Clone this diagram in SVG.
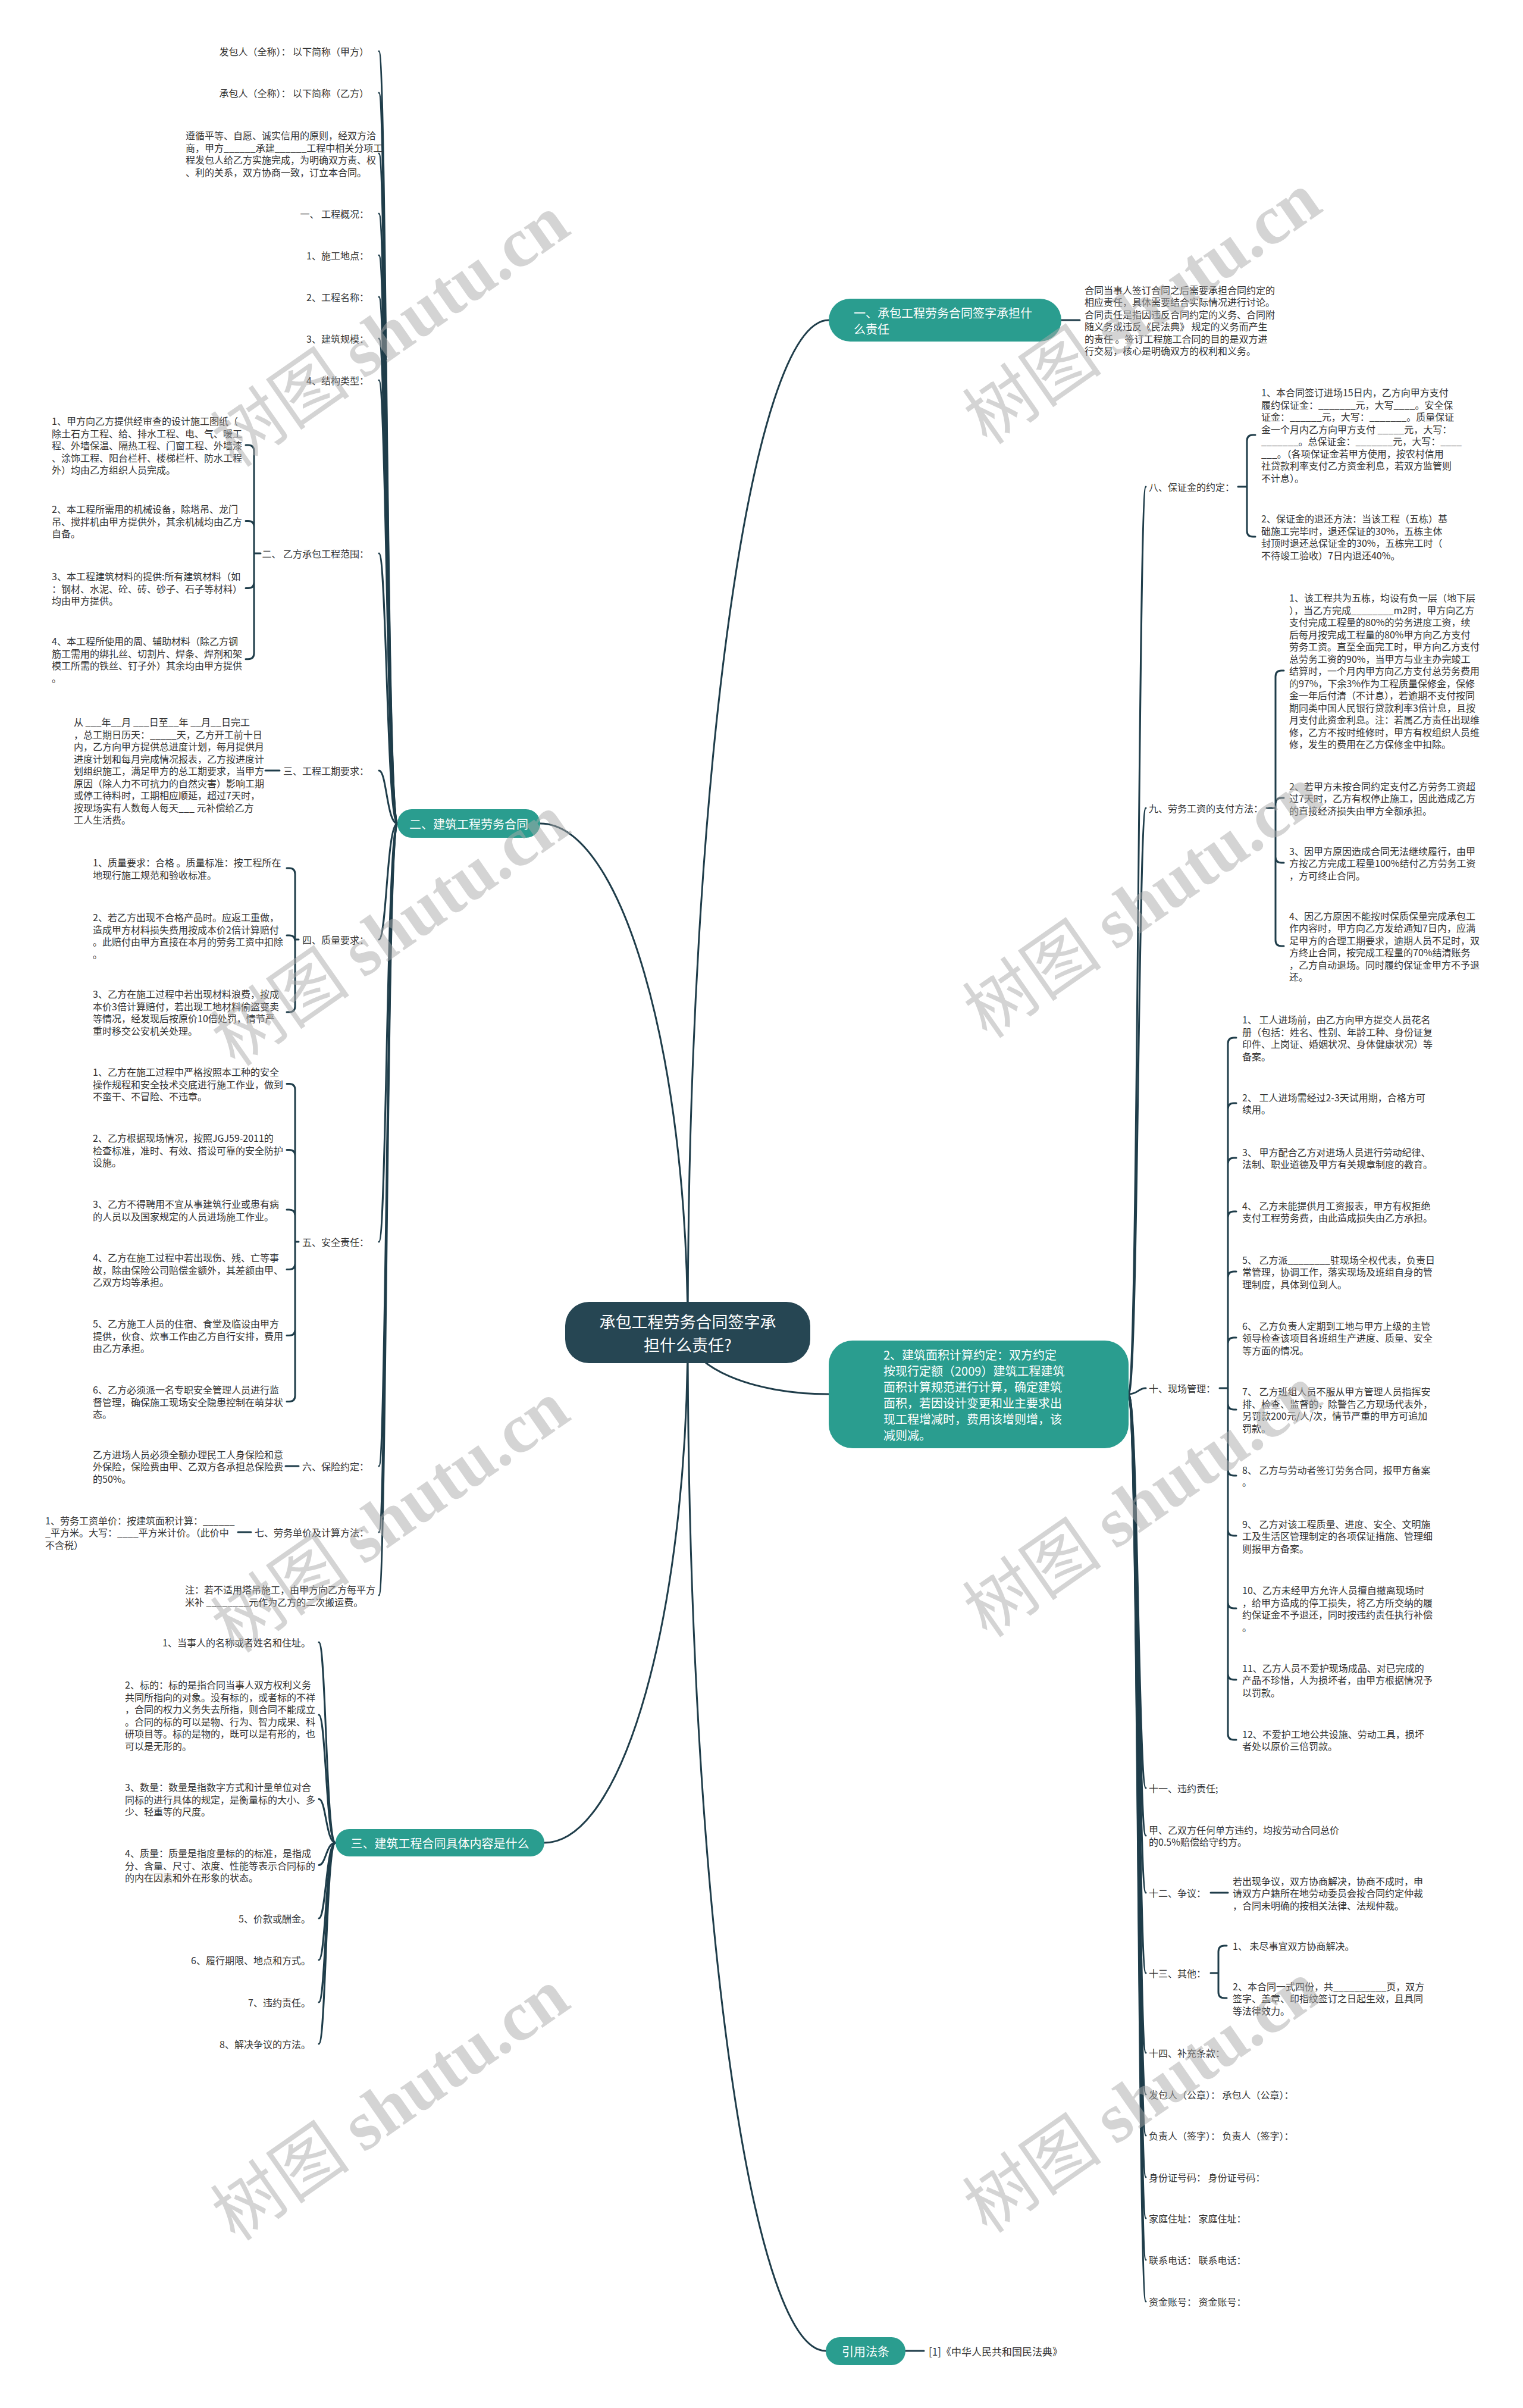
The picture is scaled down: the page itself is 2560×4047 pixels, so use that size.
<svg xmlns="http://www.w3.org/2000/svg" width="2560" height="4047" viewBox="0 0 2560 4047">
<defs><style>
.t{font-family:'Noto Sans CJK SC','Noto Sans',sans-serif;font-size:16px;fill:#333;dominant-baseline:central}
.e{text-anchor:end}
.m{text-anchor:middle}
.c{fill:none;stroke:#1f3d4a;stroke-width:3;stroke-linecap:round;stroke-linejoin:round}
.n1{fill:#2a9d8f}
.w{fill:#fff;font-size:20px}
.root{fill:#264653}
.big{font-size:27px}
.wm{font-family:'Noto Sans CJK SC',sans-serif;font-size:118px;fill:#aaa;opacity:.5}
.wms{font-family:'Liberation Serif',serif;font-weight:bold}
</style></defs>
<rect width="2560" height="4047" fill="#fff"/>
<g id="connectors">
<path class="c" d="M1156 2240 C1156 1304 1263 538 1393 538"/>
<path class="c" d="M1156 2240 C1156 1769 1044 1384 908 1384"/>
<path class="c" d="M1156 2240 C1156 2711 1048 3097 915 3097"/>
<path class="c" d="M1156 2240 C1156 2297 1263 2343 1393 2343"/>
<path class="c" d="M1156 2240 C1156 3181 1260 3951 1388 3951"/>
<path class="c" d="M1784 538 L1815 538"/>
<path class="c" d="M1522 3951 L1553 3951"/>
<path class="c" d="M668 1384 C650 1384 650 86 637 86"/>
<path class="c" d="M668 1384 C650 1384 650 156 637 156"/>
<path class="c" d="M668 1384 C650 1384 650 258 637 258"/>
<path class="c" d="M668 1384 C650 1384 650 359 637 359"/>
<path class="c" d="M668 1384 C650 1384 650 429 637 429"/>
<path class="c" d="M668 1384 C650 1384 650 499 637 499"/>
<path class="c" d="M668 1384 C650 1384 650 569 637 569"/>
<path class="c" d="M668 1384 C650 1384 650 639 637 639"/>
<path class="c" d="M668 1384 C650 1384 650 930 637 930"/>
<path class="c" d="M668 1384 C650 1384 650 1295 637 1295"/>
<path class="c" d="M668 1384 C650 1384 650 1579 637 1579"/>
<path class="c" d="M668 1384 C650 1384 650 2087 637 2087"/>
<path class="c" d="M668 1384 C650 1384 650 2464 637 2464"/>
<path class="c" d="M668 1384 C650 1384 650 2575 637 2575"/>
<path class="c" d="M668 1384 C650 1384 650 2681 637 2681"/>
<path class="c" d="M438 930 L427 930 M427 930 L427 758 Q427 748 417 748 L413 748 M427 930 L427 885.5 Q427 875.5 417 875.5 L413 875.5 M427 930 L427 978.5 Q427 988.5 417 988.5 L413 988.5 M427 930 L427 1097.75 Q427 1107.75 417 1107.75 L413 1107.75"/>
<path class="c" d="M470 1295 L446 1295"/>
<path class="c" d="M502 1579 L496 1579 M496 1579 L496 1469 Q496 1459 486 1459 L482 1459 M496 1579 L496 1582 Q496 1572 486 1572 L482 1572 M496 1579 L496 1691 Q496 1701 486 1701 L482 1701"/>
<path class="c" d="M502 2087 L496 2087 M496 2087 L496 1831.5 Q496 1821.5 486 1821.5 L482 1821.5 M496 2087 L496 1942.5 Q496 1932.5 486 1932.5 L482 1932.5 M496 2087 L496 2043 Q496 2033 486 2033 L482 2033 M496 2087 L496 2123.5 Q496 2133.5 486 2133.5 L482 2133.5 M496 2087 L496 2234.5 Q496 2244.5 486 2244.5 L482 2244.5 M496 2087 L496 2345.5 Q496 2355.5 486 2355.5 L482 2355.5"/>
<path class="c" d="M502 2464 L480 2464"/>
<path class="c" d="M422 2575 L400 2575"/>
<path class="c" d="M564 3097 C548 3097 548 2760 536 2760"/>
<path class="c" d="M564 3097 C548 3097 548 2882 536 2882"/>
<path class="c" d="M564 3097 C548 3097 548 3023.5 536 3023.5"/>
<path class="c" d="M564 3097 C548 3097 548 3134.5 536 3134.5"/>
<path class="c" d="M564 3097 C548 3097 548 3224 536 3224"/>
<path class="c" d="M564 3097 C548 3097 548 3294 536 3294"/>
<path class="c" d="M564 3097 C548 3097 548 3365 536 3365"/>
<path class="c" d="M564 3097 C548 3097 548 3435 536 3435"/>
<path class="c" d="M1897 2343 C1913 2343 1913 818 1926 818"/>
<path class="c" d="M1897 2343 C1913 2343 1913 1358 1926 1358"/>
<path class="c" d="M1897 2343 C1913 2343 1913 2333 1926 2333"/>
<path class="c" d="M1897 2343 C1913 2343 1913 3005 1926 3005"/>
<path class="c" d="M1897 2343 C1913 2343 1913 3085 1926 3085"/>
<path class="c" d="M1897 2343 C1913 2343 1913 3181 1926 3181"/>
<path class="c" d="M1897 2343 C1913 2343 1913 3316 1926 3316"/>
<path class="c" d="M1897 2343 C1913 2343 1913 3450 1926 3450"/>
<path class="c" d="M1897 2343 C1913 2343 1913 3520 1926 3520"/>
<path class="c" d="M1897 2343 C1913 2343 1913 3589 1926 3589"/>
<path class="c" d="M1897 2343 C1913 2343 1913 3659 1926 3659"/>
<path class="c" d="M1897 2343 C1913 2343 1913 3728 1926 3728"/>
<path class="c" d="M1897 2343 C1913 2343 1913 3798 1926 3798"/>
<path class="c" d="M1897 2343 C1913 2343 1913 3868 1926 3868"/>
<path class="c" d="M2081 818 L2096 818 M2096 818 L2096 741 Q2096 731 2106 731 L2110 731 M2096 818 L2096 892 Q2096 902 2106 902 L2110 902"/>
<path class="c" d="M2129 1358 L2144 1358 M2144 1358 L2144 1137 Q2144 1127 2154 1127 L2158 1127 M2144 1358 L2144 1351 Q2144 1341 2154 1341 L2158 1341 M2144 1358 L2144 1440 Q2144 1450 2154 1450 L2158 1450 M2144 1358 L2144 1580 Q2144 1590 2154 1590 L2158 1590"/>
<path class="c" d="M2050 2333 L2064 2333 M2064 2333 L2064 1754 Q2064 1744 2074 1744 L2078 1744 M2064 2333 L2064 1864 Q2064 1854 2074 1854 L2078 1854 M2064 2333 L2064 1956 Q2064 1946 2074 1946 L2078 1946 M2064 2333 L2064 2046 Q2064 2036 2074 2036 L2078 2036 M2064 2333 L2064 2147 Q2064 2137 2074 2137 L2078 2137 M2064 2333 L2064 2258 Q2064 2248 2074 2248 L2078 2248 M2064 2333 L2064 2359 Q2064 2369 2074 2369 L2078 2369 M2064 2333 L2064 2470 Q2064 2480 2074 2480 L2078 2480 M2064 2333 L2064 2571 Q2064 2581 2074 2581 L2078 2581 M2064 2333 L2064 2693 Q2064 2703 2074 2703 L2078 2703 M2064 2333 L2064 2813 Q2064 2823 2074 2823 L2078 2823 M2064 2333 L2064 2914 Q2064 2924 2074 2924 L2078 2924"/>
<path class="c" d="M2035 3181 L2064 3181"/>
<path class="c" d="M2035 3316 L2048 3316 M2048 3316 L2048 3280 Q2048 3270 2058 3270 L2062 3270 M2048 3316 L2048 3348 Q2048 3358 2058 3358 L2062 3358"/>
</g>

<g id="node-root"><rect class="root" x="950" y="2188" width="412" height="103" rx="40"/><text class="t w big m"><tspan x="1156" y="2220">承包工程劳务合同签字承</tspan><tspan x="1156" y="2259">担什么责任?</tspan></text></g>

<g id="node-1"><rect class="n1" x="1393" y="502" width="391" height="72" rx="36"/><text class="t w"><tspan x="1435" y="524.5">一、承包工程劳务合同签字承担什</tspan><tspan x="1435" y="551.5">么责任</tspan></text></g>
<g id="node-1-text"><text class="t"><tspan x="1823" y="486.75">合同当事人签订合同之后需要承担合同约定的</tspan><tspan x="1823" y="507.25">相应责任，具体需要结合实际情况进行讨论。</tspan><tspan x="1823" y="527.75">合同责任是指因违反合同约定的义务、合同附</tspan><tspan x="1823" y="548.25">随义务或违反《民法典》 规定的义务而产生</tspan><tspan x="1823" y="568.75">的责任 。签订工程施工合同的目的是双方进</tspan><tspan x="1823" y="589.25">行交易，核心是明确双方的权利和义务。</tspan></text></g>

<g id="node-2"><rect class="n1" x="668" y="1360" width="240" height="48" rx="24"/><text class="t w m" x="788" y="1384">二、建筑工程劳务合同</text></g>
<g id="n2-leaves">
<text class="t e" x="620" y="86">发包人（全称）： 以下简称（甲方）</text>
<text class="t e" x="620" y="156">承包人（全称）： 以下简称（乙方）</text>
<text class="t"><tspan x="312" y="227">遵循平等、自愿、诚实信用的原则，经双方洽</tspan><tspan x="312" y="247.5">商，甲方______承建______工程中相关分项工</tspan><tspan x="312" y="268">程发包人给乙方实施完成，为明确双方责、权</tspan><tspan x="312" y="288.5">、利的关系，双方协商一致，订立本合同。</tspan></text>
<text class="t e" x="620" y="359">一、 工程概况：</text>
<text class="t e" x="620" y="429">1、施工地点：</text>
<text class="t e" x="620" y="499">2、工程名称：</text>
<text class="t e" x="620" y="569">3、建筑规模：</text>
<text class="t e" x="620" y="639">4、结构类型：</text>
</g>
<g id="n2-scope">
<text class="t e" x="620" y="930">二、 乙方承包工程范围：</text>
<text class="t"><tspan x="87" y="707">1、甲方向乙方提供经审查的设计施工图纸（</tspan><tspan x="87" y="727.5">除土石方工程、给、排水工程、电、气、暖工</tspan><tspan x="87" y="748">程、外墙保温、隔热工程、门窗工程、外墙漆</tspan><tspan x="87" y="768.5">、涂饰工程、阳台栏杆、楼梯栏杆、防水工程</tspan><tspan x="87" y="789">外）均由乙方组织人员完成。</tspan></text>
<text class="t"><tspan x="87" y="855">2、本工程所需用的机械设备，除塔吊、龙门</tspan><tspan x="87" y="875.5">吊、搅拌机由甲方提供外，其余机械均由乙方</tspan><tspan x="87" y="896">自备。</tspan></text>
<text class="t"><tspan x="87" y="968">3、本工程建筑材料的提供:所有建筑材料（如</tspan><tspan x="87" y="988.5">：钢材、水泥、砼、砖、砂子、石子等材料）</tspan><tspan x="87" y="1009">均由甲方提供。</tspan></text>
<text class="t"><tspan x="87" y="1077">4、本工程所使用的周、辅助材料（除乙方钢</tspan><tspan x="87" y="1097.5">筋工需用的绑扎丝、切割片、焊条、焊剂和架</tspan><tspan x="87" y="1118">模工所需的铁丝、钉子外）其余均由甲方提供</tspan><tspan x="87" y="1138.5">。</tspan></text>
</g>
<g id="n2-period">
<text class="t e" x="620" y="1295">三、工程工期要求：</text>
<text class="t"><tspan x="124" y="1213">从 ___年__月 ___日至__年 __月__日完工</tspan><tspan x="124" y="1233.5">，总工期日历天：_____天，乙方开工前十日</tspan><tspan x="124" y="1254">内，乙方向甲方提供总进度计划，每月提供月</tspan><tspan x="124" y="1274.5">进度计划和每月完成情况报表，乙方按进度计</tspan><tspan x="124" y="1295">划组织施工，满足甲方的总工期要求，当甲方</tspan><tspan x="124" y="1315.5">原因（除人力不可抗力的自然灾害）影响工期</tspan><tspan x="124" y="1336">或停工待料时，工期相应顺延，超过7天时，</tspan><tspan x="124" y="1356.5">按现场实有人数每人每天___ 元补偿给乙方</tspan><tspan x="124" y="1377">工人生活费。</tspan></text>
</g>
<g id="n2-quality">
<text class="t e" x="620" y="1579">四、质量要求：</text>
<text class="t"><tspan x="156" y="1449">1、质量要求：合格 。质量标准：按工程所在</tspan><tspan x="156" y="1469.5">地现行施工规范和验收标准。</tspan></text>
<text class="t"><tspan x="156" y="1541">2、若乙方出现不合格产品时。应返工重做，</tspan><tspan x="156" y="1561.5">造成甲方材料损失费用按成本价2倍计算赔付</tspan><tspan x="156" y="1582">。此赔付由甲方直接在本月的劳务工资中扣除</tspan><tspan x="156" y="1602.5">。</tspan></text>
<text class="t"><tspan x="156" y="1670">3、乙方在施工过程中若出现材料浪费，按成</tspan><tspan x="156" y="1690.5">本价3倍计算赔付，若出现工地材料偷盗变卖</tspan><tspan x="156" y="1711">等情况，经发现后按原价10倍处罚，情节严</tspan><tspan x="156" y="1731.5">重时移交公安机关处理。</tspan></text>
</g>
<g id="n2-safety">
<text class="t e" x="620" y="2087">五、安全责任：</text>
<text class="t"><tspan x="156" y="1801">1、乙方在施工过程中严格按照本工种的安全</tspan><tspan x="156" y="1821.5">操作规程和安全技术交底进行施工作业，做到</tspan><tspan x="156" y="1842">不蛮干、不冒险、不违章。</tspan></text>
<text class="t"><tspan x="156" y="1912">2、乙方根据现场情况，按照JGJ59-2011的</tspan><tspan x="156" y="1932.5">检查标准，准时、有效、搭设可靠的安全防护</tspan><tspan x="156" y="1953">设施。</tspan></text>
<text class="t"><tspan x="156" y="2023">3、乙方不得聘用不宜从事建筑行业或患有病</tspan><tspan x="156" y="2043.5">的人员以及国家规定的人员进场施工作业。</tspan></text>
<text class="t"><tspan x="156" y="2113">4、乙方在施工过程中若出现伤、残、亡等事</tspan><tspan x="156" y="2133.5">故，除由保险公司赔偿金额外，其差额由甲、</tspan><tspan x="156" y="2154">乙双方均等承担。</tspan></text>
<text class="t"><tspan x="156" y="2224">5、乙方施工人员的住宿、食堂及临设由甲方</tspan><tspan x="156" y="2244.5">提供，伙食、炊事工作由乙方自行安排，费用</tspan><tspan x="156" y="2265">由乙方承担。</tspan></text>
<text class="t"><tspan x="156" y="2335">6、乙方必须派一名专职安全管理人员进行监</tspan><tspan x="156" y="2355.5">督管理，确保施工现场安全隐患控制在萌芽状</tspan><tspan x="156" y="2376">态。</tspan></text>
</g>
<g id="n2-insurance">
<text class="t e" x="620" y="2464">六、保险约定：</text>
<text class="t"><tspan x="156" y="2443.5">乙方进场人员必须全额办理民工人身保险和意</tspan><tspan x="156" y="2464">外保险，保险费由甲、乙双方各承担总保险费</tspan><tspan x="156" y="2484.5">的50%。</tspan></text>
</g>
<g id="n2-price">
<text class="t e" x="620" y="2575">七、劳务单价及计算方法：</text>
<text class="t"><tspan x="76" y="2554.5">1、劳务工资单价：按建筑面积计算：______</tspan><tspan x="76" y="2575">_平方米。大写：____平方米计价。（此价中</tspan><tspan x="76" y="2595.5">不含税）</tspan></text>
</g>
<g id="n2-note">
<text class="t"><tspan x="311" y="2671">注：若不适用塔吊施工，由甲方向乙方每平方</tspan><tspan x="311" y="2691.5">米补 ________元作为乙方的二次搬运费。</tspan></text>
</g>

<g id="node-3"><rect class="n1" x="564" y="3074" width="351" height="46" rx="23"/><text class="t w m" x="739.5" y="3097">三、建筑工程合同具体内容是什么</text></g>
<g id="n3-leaves">
<text class="t e" x="522" y="2760">1、当事人的名称或者姓名和住址。</text>
<text class="t"><tspan x="210" y="2831">2、标的：标的是指合同当事人双方权利义务</tspan><tspan x="210" y="2851.5">共同所指向的对象。没有标的，或者标的不祥</tspan><tspan x="210" y="2872">，合同的权力义务失去所指，则合同不能成立</tspan><tspan x="210" y="2892.5">。合同的标的可以是物、行为、智力成果、科</tspan><tspan x="210" y="2913">研项目等。标的是物的，既可以是有形的，也</tspan><tspan x="210" y="2933.5">可以是无形的。</tspan></text>
<text class="t"><tspan x="210" y="3003">3、数量：数量是指数字方式和计量单位对合</tspan><tspan x="210" y="3023.5">同标的进行具体的规定，是衡量标的大小、多</tspan><tspan x="210" y="3044">少、轻重等的尺度。</tspan></text>
<text class="t"><tspan x="210" y="3114">4、质量：质量是指度量标的的标准，是指成</tspan><tspan x="210" y="3134.5">分、含量、尺寸、浓度、性能等表示合同标的</tspan><tspan x="210" y="3155">的内在因素和外在形象的状态。</tspan></text>
<text class="t e" x="522" y="3224">5、价款或酬金。</text>
<text class="t e" x="522" y="3294">6、履行期限、地点和方式。</text>
<text class="t e" x="522" y="3365">7、违约责任。</text>
<text class="t e" x="522" y="3435">8、解决争议的方法。</text>
</g>

<g id="node-4"><rect class="n1" x="1393" y="2253" width="504" height="181" rx="40"/><text class="t w"><tspan x="1485" y="2275.5">2、建筑面积计算约定：双方约定</tspan><tspan x="1485" y="2302.5">按现行定额（2009）建筑工程建筑</tspan><tspan x="1485" y="2329.5">面积计算规范进行计算，确定建筑</tspan><tspan x="1485" y="2356.5">面积，若因设计变更和业主要求出</tspan><tspan x="1485" y="2383.5">现工程增减时，费用该增则增，该</tspan><tspan x="1485" y="2410.5">减则减。</tspan></text></g>
<g id="n4-deposit">
<text class="t" x="1931" y="818">八、保证金的约定：</text>
<text class="t"><tspan x="2120" y="659.25">1、本合同签订进场15日内，乙方向甲方支付</tspan><tspan x="2120" y="679.75">履约保证金：_______元，大写____。安全保</tspan><tspan x="2120" y="700.25">证金：______元，大写：_______。质量保证</tspan><tspan x="2120" y="720.75">金一个月内乙方向甲方支付 _____元，大写：</tspan><tspan x="2120" y="741.25">_______。总保证金：_______元，大写：____</tspan><tspan x="2120" y="761.75">___。（各项保证金若甲方使用，按农村信用</tspan><tspan x="2120" y="782.25">社贷款利率支付乙方资金利息，若双方监管则</tspan><tspan x="2120" y="802.75">不计息）。</tspan></text>
<text class="t"><tspan x="2120" y="871.25">2、保证金的退还方法：当该工程（五栋）基</tspan><tspan x="2120" y="891.75">础施工完毕时，退还保证的30%，五栋主体</tspan><tspan x="2120" y="912.25">封顶时退还总保证金的30%，五栋完工时（</tspan><tspan x="2120" y="932.75">不待竣工验收）7日内退还40%。</tspan></text>
</g>
<g id="n4-wage">
<text class="t" x="1931" y="1358">九、劳务工资的支付方法：</text>
<text class="t"><tspan x="2167" y="1004">1、该工程共为五栋，均设有负一层（地下层</tspan><tspan x="2167" y="1024.5">），当乙方完成________m2时，甲方向乙方</tspan><tspan x="2167" y="1045">支付完成工程量的80%的劳务进度工资，续</tspan><tspan x="2167" y="1065.5">后每月按完成工程量的80%甲方向乙方支付</tspan><tspan x="2167" y="1086">劳务工资。直至全面完工时，甲方向乙方支付</tspan><tspan x="2167" y="1106.5">总劳务工资的90%，当甲方与业主办完竣工</tspan><tspan x="2167" y="1127">结算时，一个月内甲方向乙方支付总劳务费用</tspan><tspan x="2167" y="1147.5">的97%，下余3%作为工程质量保修金，保修</tspan><tspan x="2167" y="1168">金一年后付清（不计息），若逾期不支付按同</tspan><tspan x="2167" y="1188.5">期同类中国人民银行贷款利率3倍计息，且按</tspan><tspan x="2167" y="1209">月支付此资金利息。注：若属乙方责任出现维</tspan><tspan x="2167" y="1229.5">修，乙方不按时维修时，甲方有权组织人员维</tspan><tspan x="2167" y="1250">修，发生的费用在乙方保修金中扣除。</tspan></text>
<text class="t"><tspan x="2167" y="1320.5">2、若甲方未按合同约定支付乙方劳务工资超</tspan><tspan x="2167" y="1341">过7天时，乙方有权停止施工，因此造成乙方</tspan><tspan x="2167" y="1361.5">的直接经济损失由甲方全额承担。</tspan></text>
<text class="t"><tspan x="2167" y="1429.5">3、因甲方原因造成合同无法继续履行，由甲</tspan><tspan x="2167" y="1450">方按乙方完成工程量100%结付乙方劳务工资</tspan><tspan x="2167" y="1470.5">，方可终止合同。</tspan></text>
<text class="t"><tspan x="2167" y="1538.75">4、因乙方原因不能按时保质保量完成承包工</tspan><tspan x="2167" y="1559.25">作内容时，甲方向乙方发给通知7日内，应满</tspan><tspan x="2167" y="1579.75">足甲方的合理工期要求，逾期人员不足时，双</tspan><tspan x="2167" y="1600.25">方终止合同，按完成工程量的70%结清账务</tspan><tspan x="2167" y="1620.75">，乙方自动退场。同时履约保证金甲方不予退</tspan><tspan x="2167" y="1641.25">还。</tspan></text>
</g>
<g id="n4-site">
<text class="t" x="1931" y="2333">十、现场管理：</text>
<text class="t"><tspan x="2088" y="1713.25">1、 工人进场前，由乙方向甲方提交人员花名</tspan><tspan x="2088" y="1733.75">册（包括：姓名、性别、年龄工种、身份证复</tspan><tspan x="2088" y="1754.25">印件、上岗证、婚姻状况、身体健康状况）等</tspan><tspan x="2088" y="1774.75">备案。</tspan></text>
<text class="t"><tspan x="2088" y="1843.75">2、 工人进场需经过2-3天试用期，合格方可</tspan><tspan x="2088" y="1864.25">续用。</tspan></text>
<text class="t"><tspan x="2088" y="1935.75">3、 甲方配合乙方对进场人员进行劳动纪律、</tspan><tspan x="2088" y="1956.25">法制、职业道德及甲方有关规章制度的教育。</tspan></text>
<text class="t"><tspan x="2088" y="2025.75">4、 乙方未能提供月工资报表，甲方有权拒绝</tspan><tspan x="2088" y="2046.25">支付工程劳务费，由此造成损失由乙方承担。</tspan></text>
<text class="t"><tspan x="2088" y="2116.5">5、 乙方派________驻现场全权代表，负责日</tspan><tspan x="2088" y="2137">常管理，协调工作，落实现场及班组自身的管</tspan><tspan x="2088" y="2157.5">理制度，具体到位到人。</tspan></text>
<text class="t"><tspan x="2088" y="2227.5">6、 乙方负责人定期到工地与甲方上级的主管</tspan><tspan x="2088" y="2248">领导检查该项目各班组生产进度、质量、安全</tspan><tspan x="2088" y="2268.5">等方面的情况。</tspan></text>
<text class="t"><tspan x="2088" y="2338.25">7、 乙方班组人员不服从甲方管理人员指挥安</tspan><tspan x="2088" y="2358.75">排、检查、监督的，除警告乙方现场代表外，</tspan><tspan x="2088" y="2379.25">另罚款200元/人/次，情节严重的甲方可追加</tspan><tspan x="2088" y="2399.75">罚款。</tspan></text>
<text class="t"><tspan x="2088" y="2469.75">8、 乙方与劳动者签订劳务合同，报甲方备案</tspan><tspan x="2088" y="2490.25">。</tspan></text>
<text class="t"><tspan x="2088" y="2560.5">9、 乙方对该工程质量、进度、安全、文明施</tspan><tspan x="2088" y="2581">工及生活区管理制定的各项保证措施、管理细</tspan><tspan x="2088" y="2601.5">则报甲方备案。</tspan></text>
<text class="t"><tspan x="2088" y="2672.25">10、乙方未经甲方允许人员擅自撤离现场时</tspan><tspan x="2088" y="2692.75">，给甲方造成的停工损失，将乙方所交纳的履</tspan><tspan x="2088" y="2713.25">约保证金不予退还，同时按违约责任执行补偿</tspan><tspan x="2088" y="2733.75">。</tspan></text>
<text class="t"><tspan x="2088" y="2802.5">11、乙方人员不爱护现场成品、对已完成的</tspan><tspan x="2088" y="2823">产品不珍惜，人为损坏者，由甲方根据情况予</tspan><tspan x="2088" y="2843.5">以罚款。</tspan></text>
<text class="t"><tspan x="2088" y="2913.75">12、不爱护工地公共设施、劳动工具，损坏</tspan><tspan x="2088" y="2934.25">者处以原价三倍罚款。</tspan></text>
</g>
<g id="n4-rest">
<text class="t" x="1931" y="3005">十一、违约责任;</text>
<text class="t"><tspan x="1931" y="3074.75">甲、乙双方任何单方违约，均按劳动合同总价</tspan><tspan x="1931" y="3095.25">的0.5%赔偿给守约方。</tspan></text>
<text class="t" x="1931" y="3181">十二、争议：</text>
<text class="t"><tspan x="2072" y="3160.5">若出现争议，双方协商解决，协商不成时，申</tspan><tspan x="2072" y="3181">请双方户籍所在地劳动委员会按合同约定仲裁</tspan><tspan x="2072" y="3201.5">，合同未明确的按相关法律、法规仲裁。</tspan></text>
<text class="t" x="1931" y="3316">十三、其他：</text>
<text class="t" x="2072" y="3270">1、 未尽事宜双方协商解决。</text>
<text class="t"><tspan x="2072" y="3337.5">2、本合同一式四份，共__________页，双方</tspan><tspan x="2072" y="3358">签字、盖章、印指纹签订之日起生效，且具同</tspan><tspan x="2072" y="3378.5">等法律效力。</tspan></text>
<text class="t" x="1931" y="3450">十四、补充条款：</text>
<text class="t" x="1931" y="3520">发包人（公章）： 承包人（公章）：</text>
<text class="t" x="1931" y="3589">负责人（签字）： 负责人（签字）：</text>
<text class="t" x="1931" y="3659">身份证号码： 身份证号码：</text>
<text class="t" x="1931" y="3728">家庭住址： 家庭住址：</text>
<text class="t" x="1931" y="3798">联系电话： 联系电话：</text>
<text class="t" x="1931" y="3868">资金账号： 资金账号：</text>
</g>

<g id="node-5"><rect class="n1" x="1388" y="3928" width="134" height="47" rx="23.5"/><text class="t w m" x="1455" y="3951">引用法条</text></g>
<g id="n5-leaf"><text class="t" x="1561" y="3951" style="font-size:17px">[1]《中华人民共和国民法典》</text></g>

<g id="watermark">
<text class="wm" transform="translate(396 788) rotate(-35)">树图 <tspan class="wms">shutu.cn</tspan></text>
<text class="wm" transform="translate(1660 750) rotate(-35)">树图 <tspan class="wms">shutu.cn</tspan></text>
<text class="wm" transform="translate(396 1795) rotate(-35)">树图 <tspan class="wms">shutu.cn</tspan></text>
<text class="wm" transform="translate(1660 1748) rotate(-35)">树图 <tspan class="wms">shutu.cn</tspan></text>
<text class="wm" transform="translate(396 2781) rotate(-35)">树图 <tspan class="wms">shutu.cn</tspan></text>
<text class="wm" transform="translate(1660 2755) rotate(-35)">树图 <tspan class="wms">shutu.cn</tspan></text>
<text class="wm" transform="translate(396 3769) rotate(-35)">树图 <tspan class="wms">shutu.cn</tspan></text>
<text class="wm" transform="translate(1660 3756) rotate(-35)">树图 <tspan class="wms">shutu.cn</tspan></text>
</g>
</svg>
